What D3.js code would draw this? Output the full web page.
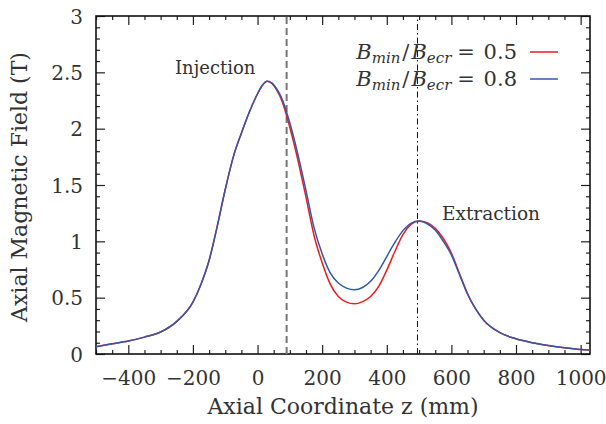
<!DOCTYPE html>
<html>
<head>
<meta charset="utf-8">
<script src="https://cdn.jsdelivr.net/npm/d3@7"></script>
<style>
  body { margin: 0; background: #fff; }
  text { font-family: "DejaVu Serif", serif; fill: #333; }
</style>
</head>
<body>
<div id="chart"></div>
<script>
// axial positions (mm)
const zValues = [-500, -450, -400, -350, -300, -250, -200, -175, -150, -125, -100, -75, -50, -25,
    0, 15, 30, 45, 60, 75, 100, 125, 150, 175, 200, 225, 250, 275, 300, 325, 350, 375, 400, 425, 450, 475,
    500, 525, 550, 575, 600, 625, 650, 675, 700, 750, 800, 850, 900, 950, 1000, 1029];

// field for Bmin/Becr = 0.5
const fieldLow = [0.065, 0.09, 0.115, 0.15, 0.195, 0.29, 0.46, 0.62, 0.83, 1.13, 1.46, 1.75, 1.96, 2.15,
    2.31, 2.385, 2.42, 2.40, 2.34, 2.25, 2.01, 1.72, 1.39, 1.05, 0.81, 0.62, 0.51, 0.46, 0.445, 0.465, 0.51, 0.60, 0.745, 0.91, 1.06, 1.15,
    1.18, 1.165, 1.115, 1.025, 0.895, 0.715, 0.535, 0.40, 0.30, 0.19, 0.135, 0.10, 0.075, 0.055, 0.04, 0.035];

// field for Bmin/Becr = 0.8
const fieldHigh = [0.065, 0.09, 0.115, 0.15, 0.195, 0.29, 0.46, 0.62, 0.83, 1.13, 1.46, 1.75, 1.96, 2.15,
    2.31, 2.385, 2.42, 2.405, 2.35, 2.27, 2.05, 1.77, 1.45, 1.12, 0.89, 0.72, 0.63, 0.585, 0.57, 0.59, 0.645, 0.74, 0.865, 0.99, 1.095, 1.16,
    1.18, 1.155, 1.10, 1.00, 0.88, 0.705, 0.53, 0.40, 0.30, 0.19, 0.135, 0.10, 0.075, 0.055, 0.04, 0.035];

const xTicks = [-400, -200, 0, 200, 400, 600, 800, 1000];
const yTicks = [0, 0.5, 1, 1.5, 2, 2.5, 3];
const injectionZ = 90;
const extractionZ = 495;

const series = [
    {ratio: "0.5", values: fieldLow, color: "#f01a1f"},
    {ratio: "0.8", values: fieldHigh, color: "#2e58ad"}
];

const width = 606, height = 424;
const margin = {top: 16, right: 16, bottom: 70, left: 96};

const svg = d3.select("#chart").append("svg")
    .attr("width", width)
    .attr("height", height);

const x = d3.scaleLinear().domain([-500, 1029]).range([margin.left, width - margin.right]);
const y = d3.scaleLinear().domain([0, 3]).range([height - margin.bottom, margin.top]);

const plotH = y(0) - y(3);
const plotW = x.range()[1] - x.range()[0];

// minor + major ticks, inward on all four sides
const xMinor = d3.range(-500, 1029, 50).filter(v => v % 200 !== 0);
const yMinor = d3.range(0, 3.001, 0.1).map(v => +v.toFixed(1)).filter(v => Math.round(v * 10) % 5 !== 0);

function tickAxis(axisFn, scale, values, len, labels) {
    return axisFn(scale).tickValues(values).tickSizeInner(-len).tickSizeOuter(0)
        .tickFormat(labels ? (d => d < 0 ? "\u2212" + Math.abs(d) : d) : "");
}

const axes = svg.append("g").attr("class", "axes");

// bottom
axes.append("g").attr("transform", `translate(0,${y(0)})`)
    .call(tickAxis(d3.axisBottom, x, xMinor, 4, false));
axes.append("g").attr("class", "xlab").attr("transform", `translate(0,${y(0)})`)
    .call(tickAxis(d3.axisBottom, x, xTicks, 9, true));
// top
axes.append("g").attr("transform", `translate(0,${y(3)})`)
    .call(tickAxis(d3.axisTop, x, xMinor, 4, false));
axes.append("g").attr("transform", `translate(0,${y(3)})`)
    .call(tickAxis(d3.axisTop, x, xTicks, 9, false));
// left
axes.append("g").attr("transform", `translate(${x(-500)},0)`)
    .call(tickAxis(d3.axisLeft, y, yMinor, 4, false));
axes.append("g").attr("class", "ylab").attr("transform", `translate(${x(-500)},0)`)
    .call(tickAxis(d3.axisLeft, y, yTicks, 9, true));
// right
axes.append("g").attr("transform", `translate(${x.range()[1]},0)`)
    .call(tickAxis(d3.axisRight, y, yMinor, 4, false));
axes.append("g").attr("transform", `translate(${x.range()[1]},0)`)
    .call(tickAxis(d3.axisRight, y, yTicks, 9, false));

axes.selectAll(".domain").remove();
axes.selectAll(".tick line").attr("stroke", "#222").attr("stroke-width", 1.2);
axes.selectAll(".tick text")
    .style("font-family", "DejaVu Serif, serif")
    .style("font-size", "20px")
    .attr("fill", "#333");
axes.select(".xlab").selectAll(".tick text").attr("dy", "0.71em").attr("y", 17);
axes.select(".ylab").selectAll(".tick text").attr("x", -13).attr("dy", "0.36em");

// frame
svg.append("rect")
    .attr("x", x.range()[0]).attr("y", y(3))
    .attr("width", plotW).attr("height", plotH)
    .attr("fill", "none").attr("stroke", "#111").attr("stroke-width", 1.6);

// injection / extraction markers
svg.append("line")
    .attr("x1", x(injectionZ)).attr("x2", x(injectionZ))
    .attr("y1", y(0)).attr("y2", y(3))
    .attr("stroke", "#777").attr("stroke-width", 2)
    .attr("stroke-dasharray", "7,4");

svg.append("line")
    .attr("x1", x(extractionZ)).attr("x2", x(extractionZ))
    .attr("y1", y(0)).attr("y2", y(3))
    .attr("stroke", "#111").attr("stroke-width", 1)
    .attr("stroke-dasharray", "6,3,1.5,3");

// curves
const line = d3.line()
    .x((d, i) => x(zValues[i]))
    .y(d => y(d))
    .curve(d3.curveMonotoneX);

series.forEach(s => {
    svg.append("path")
        .datum(s.values)
        .attr("fill", "none")
        .attr("stroke", s.color)
        .attr("stroke-width", 1.5)
        .attr("d", line);
});

// annotations
svg.append("text").attr("x", 175).attr("y", 74)
    .style("font-size", "18px").text("Injection");
svg.append("text").attr("x", 442).attr("y", 220)
    .style("font-size", "18.5px").text("Extraction");

// legend
const legend = svg.append("g").attr("class", "legend");
series.forEach((s, i) => {
    const ly = 52 + i * 27;
    const t = legend.append("text")
        .attr("x", 517).attr("y", ly + 7)
        .attr("text-anchor", "end")
        .style("font-size", "21px");
    t.append("tspan").style("font-style", "italic").text("B");
    t.append("tspan").style("font-style", "italic").style("font-size", "15px")
        .attr("dy", 4).text("min");
    t.append("tspan").attr("dy", -4).attr("dx", 2).text("/");
    t.append("tspan").style("font-style", "italic").attr("dx", 2).text("B");
    t.append("tspan").style("font-style", "italic").style("font-size", "15px")
        .attr("dy", 4).text("ecr");
    t.append("tspan").attr("dy", -4).attr("dx", 6).text("= ");
    t.append("tspan").attr("dx", 2).text(s.ratio);

    legend.append("line")
        .attr("x1", 530).attr("x2", 558)
        .attr("y1", ly).attr("y2", ly)
        .attr("stroke", s.color).attr("stroke-width", 1.5);
});

// axis titles
svg.append("text")
    .attr("x", (x.range()[0] + x.range()[1]) / 2)
    .attr("y", 414)
    .attr("text-anchor", "middle")
    .style("font-size", "22px")
    .text("Axial Coordinate z (mm)");

svg.append("text")
    .attr("transform", `translate(27,${(y(0) + y(3)) / 2 + 2}) rotate(-90)`)
    .attr("text-anchor", "middle")
    .style("font-size", "22px")
    .text("Axial Magnetic Field (T)");
</script>
</body>
</html>
